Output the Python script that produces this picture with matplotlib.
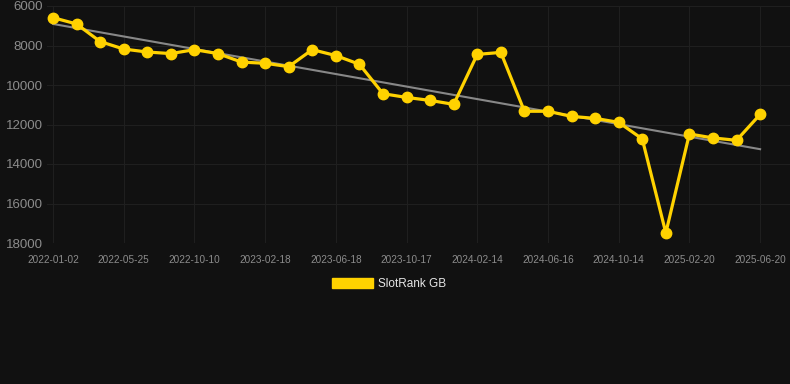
import numpy as np
import matplotlib
matplotlib.use("Agg")
import matplotlib.pyplot as plt
import matplotlib.patches as mpatches

tick_labels = ["2022-01-02", "2022-05-25", "2022-10-10", "2023-02-18", "2023-06-18",
               "2023-10-17", "2024-02-14", "2024-06-16", "2024-10-14", "2025-02-20",
               "2025-06-20"]
ranks = [6590, 6910, 7800, 8180, 8330, 8410, 8210, 8410, 8840, 8900,
         9070, 8210, 8510, 8950, 10440, 10630, 10780, 10980, 8450, 8350,
         11330, 11330, 11590, 11690, 11890, 12730, 17490, 12480, 12680, 12800,
         11490]
yticks = [6000, 8000, 10000, 12000, 14000, 16000, 18000]
series_name = "SlotRank GB"

plt.rcParams['font.family'] = ['Liberation Sans', 'DejaVu Sans']
bg = "#111111"
fig = plt.figure(figsize=(7.9, 3.84), dpi=100, facecolor=bg)
W, H = 790, 384
left, right, top, bottom = 47, 790, 6, 243
ax = fig.add_axes([left / W, 1 - bottom / H, (right - left) / W, (bottom - top) / H])
ax.set_facecolor(bg)

x = np.arange(len(ranks))
coef = np.polyfit(x, ranks, 1)
ax.plot(x, np.polyval(coef, x), color="#888888", lw=1.5, zorder=2)
ax.plot(x, ranks, color="#FFD200", lw=2.3, marker="o", ms=7.5, zorder=3)

spacing = 23.57
ax.set_xlim(-(53 - left) / spacing, (right - 53) / spacing)
ax.set_ylim(18000, 6000)
ax.set_yticks(yticks)
ax.set_yticklabels([str(v) for v in yticks])
tick_pos = list(range(0, len(ranks), 3))
ax.set_xticks(tick_pos)
ax.set_xticklabels(tick_labels)

ax.grid(True, color="#1f1f1f", lw=0.8)
ax.set_axisbelow(True)
for s in ax.spines.values():
    s.set_visible(False)
ax.tick_params(axis='y', colors="#8c8c8c", labelsize=9.5, length=0, pad=3)
ax.tick_params(axis='x', colors="#8c8c8c", labelsize=7.2, length=0, pad=8.5)

handle = mpatches.Patch(color="#FFD200", label=series_name)
leg = fig.legend(handles=[handle], loc="center", bbox_to_anchor=(389.5 / W, 1 - 284 / H),
                 frameon=False, fontsize=8.5, handlelength=3.4, handleheight=0.93,
                 handletextpad=0.5)
for t in leg.get_texts():
    t.set_color("#e6e6e6")

fig.savefig("out.png", dpi=100, facecolor=bg)
